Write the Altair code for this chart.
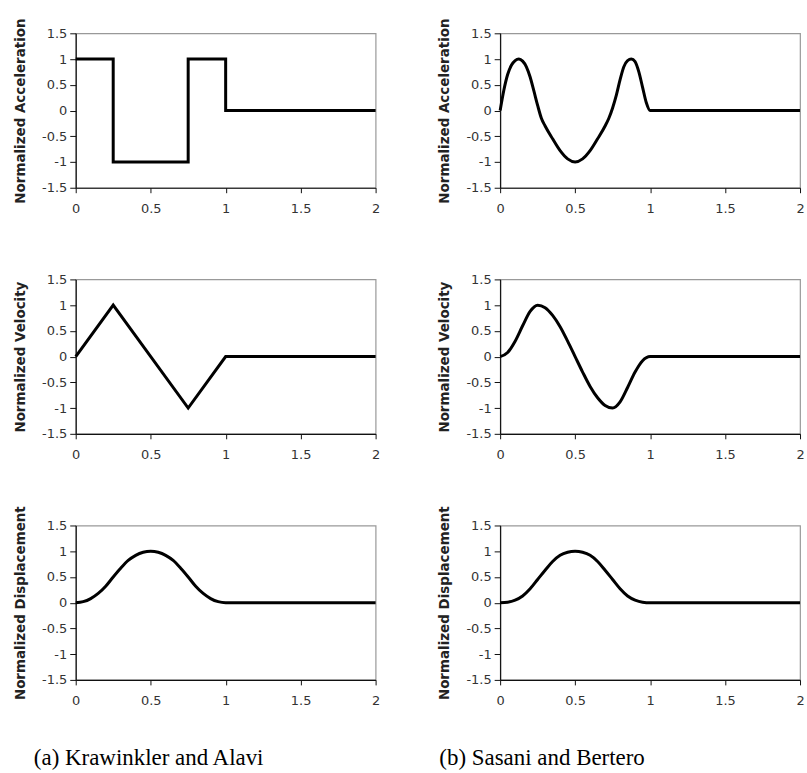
import altair as alt
import pandas as pd

# ---------------- data ----------------
# (a) Krawinkler and Alavi
ka_acc_t = [0, 0.25, 0.25, 0.75, 0.75, 1.0, 1.0, 2.0]
ka_acc_v = [1, 1, -1, -1, 1, 1, 0, 0]
ka_vel_t = [0, 0.25, 0.75, 1.0, 2.0]
ka_vel_v = [0, 1, -1, 0, 0]
ka_dis_t = [0, 0.05, 0.1, 0.15, 0.2, 0.25, 0.3, 0.35, 0.4, 0.45, 0.5,
            0.55, 0.6, 0.65, 0.7, 0.75, 0.8, 0.85, 0.9, 0.95, 1.0, 2.0]
ka_dis_v = [0, 0.02, 0.08, 0.18, 0.32, 0.5, 0.67, 0.82, 0.92, 0.98, 1.0,
            0.98, 0.92, 0.82, 0.67, 0.5, 0.32, 0.18, 0.08, 0.02, 0, 0]

# (b) Sasani and Bertero
sb_acc_t = [0, 0.025, 0.05, 0.075, 0.1, 0.125, 0.15, 0.175, 0.2, 0.225, 0.25,
            0.275, 0.3, 0.35, 0.4, 0.45, 0.5, 0.55, 0.6, 0.65, 0.7, 0.725,
            0.75, 0.775, 0.8, 0.825, 0.85, 0.875, 0.9, 0.925, 0.95, 0.975, 1.0, 2.0]
sb_acc_v = [0, 0.4, 0.7, 0.88, 0.97, 1.0, 0.96, 0.85, 0.65, 0.38, 0.1,
            -0.15, -0.3, -0.55, -0.78, -0.94, -1.0, -0.94, -0.78, -0.55, -0.3, -0.15,
            0.05, 0.3, 0.6, 0.85, 0.97, 1.0, 0.95, 0.75, 0.45, 0.15, 0, 0]
sb_vel_t = [0, 0.05, 0.1, 0.15, 0.2, 0.25, 0.3, 0.35, 0.4, 0.45, 0.5,
            0.55, 0.6, 0.65, 0.7, 0.75, 0.8, 0.85, 0.9, 0.95, 1.0, 2.0]
sb_vel_v = [0, 0.08, 0.3, 0.6, 0.88, 1.0, 0.95, 0.8, 0.58, 0.3, 0.0,
            -0.3, -0.58, -0.8, -0.95, -1.0, -0.88, -0.6, -0.3, -0.08, 0, 0]
sb_dis_t = [0, 0.05, 0.1, 0.15, 0.2, 0.25, 0.3, 0.35, 0.4, 0.45, 0.5,
            0.55, 0.6, 0.65, 0.7, 0.75, 0.8, 0.85, 0.9, 0.95, 1.0, 2.0]
sb_dis_v = [0, 0.01, 0.05, 0.13, 0.27, 0.45, 0.63, 0.8, 0.92, 0.98, 1.0,
            0.98, 0.92, 0.8, 0.63, 0.45, 0.27, 0.13, 0.05, 0.01, 0, 0]

x_ticks = [0, 0.5, 1, 1.5, 2]
y_ticks = [-1.5, -1, -0.5, 0, 0.5, 1, 1.5]

titles = ["Normalized Acceleration", "Normalized Velocity", "Normalized Displacement"]
captions = ["(a) Krawinkler and Alavi", "(b) Sasani and Bertero"]

W, H = 301, 155


def panel(ts, vs, title, caption=None, cap_dx=0, smooth=False):
    df = pd.DataFrame({"t": ts, "v": vs, "i": list(range(len(ts)))})
    line = alt.Chart(df).mark_line(
        color="black", strokeWidth=3,
        interpolate="monotone" if smooth else "linear",
    ).encode(
        x=alt.X("t:Q", scale=alt.Scale(domain=[0, 2], nice=False, zero=False),
                axis=alt.Axis(values=x_ticks, title=None, tickSize=5, labelPadding=10,
                              labelExpr="datum.value + ''", labelFlush=False)),
        y=alt.Y("v:Q", scale=alt.Scale(domain=[-1.5, 1.5], nice=False),
                axis=alt.Axis(values=y_ticks, title=title, tickSize=6, labelPadding=3,
                              titlePadding=14, labelExpr="datum.value + ''")),
        order="i:Q",
    )
    layers = [line]
    if caption:
        cap_df = pd.DataFrame({"c": [caption]})
        cap = alt.Chart(cap_df).mark_text(
            align="left", baseline="alphabetic", font="Liberation Serif",
            fontSize=23, color="black"
        ).encode(x=alt.value(cap_dx), y=alt.value(240), text="c:N")
        layers.append(cap)
    return alt.layer(*layers).properties(width=W, height=H)


cells = [
    panel(ka_acc_t, ka_acc_v, titles[0]),
    panel(sb_acc_t, sb_acc_v, titles[0], smooth=True),
    panel(ka_vel_t, ka_vel_v, titles[1]),
    panel(sb_vel_t, sb_vel_v, titles[1], smooth=True),
    panel(ka_dis_t, ka_dis_v, titles[2], captions[0], -42, smooth=True),
    panel(sb_dis_t, sb_dis_v, titles[2], captions[1], -61, smooth=True),
]

chart = alt.concat(
    *cells, columns=2, spacing={"row": 92, "column": 125}, bounds="flush"
).properties(
    padding={"left": 13, "top": 15, "right": 0, "bottom": 0},
    background="white",
).configure_view(
    stroke="#999", strokeWidth=1.2
).configure_axis(
    grid=False, domainColor="#111", domainWidth=1.2, tickColor="#111",
    labelColor="#333", labelFont="DejaVu Sans", labelFontSize=13,
    titleFont="DejaVu Sans", titleFontWeight="bold", titleFontSize=13.5, titleColor="#222",
)

chart.save("out.html", embed_options={"renderer": "svg", "actions": False})
